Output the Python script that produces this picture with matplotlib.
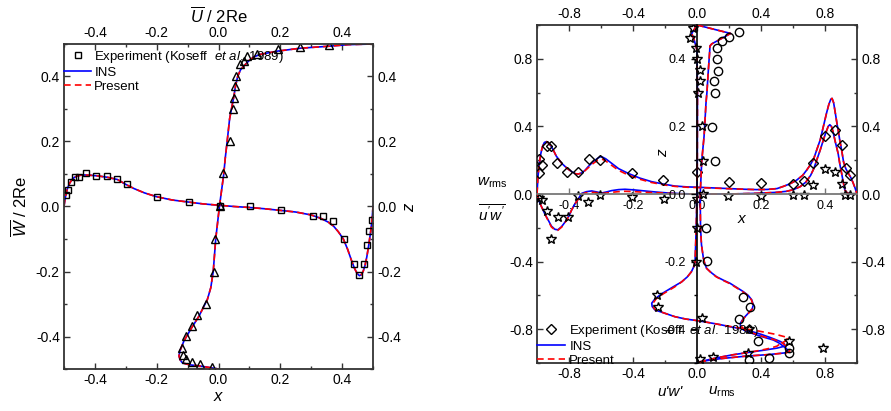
import numpy as np
import matplotlib.pyplot as plt
from matplotlib.ticker import MultipleLocator
from matplotlib.lines import Line2D

plt.rcParams['font.family'] = 'Liberation Sans'
plt.rcParams['mathtext.fontset'] = 'custom'
plt.rcParams['mathtext.rm'] = 'Liberation Sans'
plt.rcParams['mathtext.it'] = 'Liberation Sans:italic'
plt.rcParams['mathtext.bf'] = 'Liberation Sans:bold'

# ---------------- left panel data ----------------
# W/2Re along the horizontal centreline
w_x = [-0.5, -0.497, -0.493, -0.488, -0.482, -0.475, -0.466, -0.456, -0.443, -0.43, -0.413,
       -0.39, -0.36, -0.327, -0.3, -0.273, -0.24, -0.2, -0.15, -0.1, -0.05, 0.0, 0.05, 0.1,
       0.15, 0.2, 0.25, 0.3, 0.33, 0.355, 0.372, 0.388, 0.404, 0.418, 0.43, 0.44, 0.448,
       0.456, 0.462, 0.468, 0.474, 0.48, 0.486, 0.492, 0.497, 0.5]
w_ins = [0.0, 0.02, 0.04, 0.058, 0.071, 0.082, 0.09, 0.094, 0.097, 0.097, 0.096,
         0.094, 0.09, 0.083, 0.068, 0.055, 0.042, 0.03, 0.02, 0.014, 0.008, 0.004, 0.0, -0.003,
         -0.007, -0.012, -0.017, -0.026, -0.036, -0.048, -0.06, -0.078, -0.1, -0.132, -0.165, -0.19, -0.205,
         -0.213, -0.21, -0.2, -0.182, -0.155, -0.12, -0.08, -0.04, 0.0]
w_present = list(w_ins)   # lies on top of INS

# U/2Re along the vertical centreline
u_z = [0.5, 0.498, 0.493, 0.487, 0.478, 0.468, 0.46, 0.45, 0.442, 0.43, 0.42, 0.4, 0.37,
       0.34, 0.3, 0.27, 0.2, 0.15, 0.1, 0.05, 0.0, -0.05, -0.1, -0.15, -0.2, -0.25, -0.286,
       -0.337, -0.378, -0.414, -0.445, -0.46, -0.472, -0.481, -0.487, -0.491, -0.496, -0.5]
u_ins = [0.5, 0.42, 0.355, 0.265, 0.19, 0.135, 0.114, 0.1, 0.092, 0.08, 0.071, 0.062, 0.055,
         0.05, 0.042, 0.036, 0.028, 0.022, 0.017, 0.01, 0.003, -0.003, -0.009, -0.013, -0.017, -0.025, -0.036,
         -0.063, -0.09, -0.112, -0.125, -0.128, -0.124, -0.117, -0.095, -0.058, -0.025, 0.0]
u_present = list(u_ins)

exp_w_x = [-0.493, -0.488, -0.477, -0.465, -0.45, -0.429, -0.397, -0.362, -0.33, -0.297, -0.198,
           -0.096, 0.004, 0.103, 0.203, 0.305, 0.338, 0.372, 0.406, 0.439, 0.456, 0.471, 0.482,
           0.488, 0.497]
exp_w = [0.035, 0.05, 0.075, 0.09, 0.091, 0.104, 0.095, 0.093, 0.085, 0.07, 0.029,
         0.013, 0.001, 0.001, -0.012, -0.028, -0.03, -0.045, -0.1, -0.178, -0.21, -0.178, -0.117,
         -0.076, -0.043]
exp_u = [0.356, 0.265, 0.193, 0.123, 0.092, 0.082, 0.069, 0.058, 0.055, 0.049, 0.047, 0.036, 0.015,
         0.004, -0.01, -0.016, -0.042, -0.071, -0.087, -0.104, -0.117, -0.114, -0.106, -0.087, -0.06, -0.02]
exp_u_z = [0.496, 0.491, 0.485, 0.468, 0.462, 0.449, 0.439, 0.403, 0.37, 0.334, 0.3, 0.203, 0.104,
           0.0, -0.1, -0.2, -0.3, -0.334, -0.368, -0.399, -0.435, -0.458, -0.469, -0.479, -0.486, -0.493]

# ---------------- right panel data ----------------
# profiles along x (value on outer left axis)
wr_x = [-0.5, -0.497, -0.493, -0.488, -0.483, -0.477, -0.47, -0.463, -0.455, -0.449, -0.44, -0.423,
        -0.405, -0.392, -0.38, -0.371, -0.36, -0.35, -0.34, -0.325, -0.31, -0.303, -0.295, -0.285,
        -0.267, -0.245, -0.215, -0.18, -0.142, -0.1, -0.069, -0.03, 0.004, 0.05, 0.1, 0.15, 0.186,
        0.22, 0.25, 0.27, 0.29, 0.31, 0.33, 0.343, 0.355, 0.365, 0.374, 0.385, 0.395, 0.405, 0.412,
        0.418, 0.422, 0.427, 0.433, 0.438, 0.441, 0.446, 0.452, 0.458, 0.465, 0.473, 0.48, 0.487,
        0.494, 0.5]
wr_ins = [0.0, 0.1, 0.18, 0.24, 0.28, 0.305, 0.31, 0.3, 0.28, 0.26, 0.225, 0.182,
          0.15, 0.133, 0.12, 0.118, 0.125, 0.14, 0.162, 0.19, 0.212, 0.22, 0.218, 0.208,
          0.182, 0.15, 0.122, 0.095, 0.073, 0.057, 0.047, 0.042, 0.04, 0.036, 0.032, 0.028, 0.026,
          0.027, 0.032, 0.045, 0.06, 0.08, 0.11, 0.142, 0.175, 0.21, 0.26, 0.32, 0.4, 0.48, 0.53,
          0.56, 0.566, 0.54, 0.47, 0.41, 0.38, 0.32, 0.26, 0.19, 0.15, 0.122, 0.1, 0.07,
          0.035, 0.0]
wr_present = [0.0, 0.1, 0.18, 0.24, 0.28, 0.305, 0.31, 0.3, 0.28, 0.26, 0.225, 0.182,
              0.15, 0.133, 0.12, 0.118, 0.125, 0.138, 0.155, 0.18, 0.2, 0.205, 0.205, 0.195,
              0.17, 0.14, 0.112, 0.088, 0.068, 0.053, 0.045, 0.04, 0.038, 0.035, 0.031, 0.028, 0.026,
              0.027, 0.032, 0.045, 0.06, 0.08, 0.11, 0.142, 0.175, 0.21, 0.26, 0.32, 0.4, 0.48, 0.53,
              0.56, 0.566, 0.54, 0.47, 0.41, 0.38, 0.32, 0.26, 0.19, 0.15, 0.122, 0.1, 0.07,
              0.035, 0.0]

uw_x = [-0.5, -0.495, -0.486, -0.475, -0.465, -0.455, -0.444, -0.435, -0.423, -0.41, -0.4, -0.392,
        -0.38, -0.36, -0.345, -0.329, -0.313, -0.298, -0.283, -0.267, -0.245, -0.225, -0.195,
        -0.163, -0.13, -0.09, -0.05, 0.0, 0.1, 0.186, 0.25, 0.28, 0.3, 0.322, 0.34, 0.355, 0.365,
        0.374, 0.385, 0.395, 0.402, 0.41, 0.415, 0.42, 0.425, 0.432, 0.441, 0.447, 0.452, 0.457,
        0.462, 0.47, 0.48, 0.5]
uw_ins = [0.0, -0.035, -0.075, -0.12, -0.154, -0.19, -0.209, -0.212, -0.193, -0.16, -0.13, -0.095,
          -0.055, 0.004, 0.014, 0.018, 0.012, 0.006, 0.012, 0.02, 0.026, 0.028, 0.024,
          0.018, 0.012, 0.006, 0.002, 0.0, 0.0, 0.004, 0.01, 0.016, 0.025, 0.043, 0.07, 0.11, 0.15,
          0.2, 0.26, 0.32, 0.36, 0.4, 0.41, 0.4, 0.37, 0.31, 0.24, 0.17, 0.122, 0.07,
          0.024, 0.005, 0.0, 0.0]
uw_present = [0.0, -0.035, -0.075, -0.12, -0.158, -0.195, -0.213, -0.215, -0.196, -0.162, -0.13, -0.095,
              -0.055, 0.0, 0.008, 0.01, 0.008, 0.004, 0.006, 0.01, 0.014, 0.016, 0.014,
              0.01, 0.008, 0.004, 0.001, 0.0, 0.0, 0.004, 0.01, 0.016, 0.025, 0.043, 0.07, 0.11, 0.15,
              0.2, 0.26, 0.32, 0.36, 0.4, 0.41, 0.4, 0.37, 0.31, 0.24, 0.17, 0.122, 0.07,
              0.024, 0.005, 0.0, 0.0]

exp_wr_x = [-0.494, -0.494, -0.483, -0.468, -0.457, -0.437, -0.405, -0.373, -0.337, -0.303, -0.202,
            -0.105, 0.0, 0.1, 0.2, 0.3, 0.333, 0.364, 0.4, 0.432, 0.452, 0.465, 0.478]
exp_wr = [0.122, 0.207, 0.172, 0.284, 0.284, 0.185, 0.128, 0.132, 0.205, 0.201, 0.122,
          0.083, 0.13, 0.069, 0.063, 0.058, 0.075, 0.185, 0.343, 0.379, 0.29, 0.152, 0.112]
exp_uwx_x = [-0.494, -0.483, -0.47, -0.457, -0.434, -0.402, -0.373, -0.34, -0.303, -0.202, -0.102,
             0.0, 0.098, 0.2, 0.299, 0.333, 0.364, 0.4, 0.432, 0.452, 0.463, 0.477]
exp_uwx = [-0.022, -0.036, -0.099, -0.264, -0.138, -0.136, -0.01, -0.046, -0.006, -0.02, -0.031,
           -0.03, -0.012, -0.012, -0.006, -0.006, 0.055, 0.15, 0.132, 0.058, -0.006, -0.008]

# profiles along z (value on outer bottom axis)
ur_z = [0.5, 0.475, 0.444, 0.438, 0.42, 0.367, 0.3, 0.268, 0.2, 0.17, 0.1, 0.0, -0.1, -0.15, -0.19,
        -0.205, -0.22, -0.233, -0.245, -0.255, -0.264, -0.277, -0.289, -0.3, -0.313, -0.328, -0.34,
        -0.347, -0.358, -0.368, -0.383, -0.393, -0.402, -0.41, -0.417, -0.424, -0.432, -0.44, -0.447,
        -0.452, -0.458, -0.465, -0.47, -0.475, -0.48, -0.487, -0.493, -0.5]
ur_ins = [0.0, 0.21, 0.092, 0.081, 0.079, 0.071, 0.062, 0.056, 0.048, 0.044, 0.03, 0.02, 0.022, 0.028, 0.04,
          0.048, 0.06, 0.09, 0.123, 0.165, 0.206, 0.25, 0.29, 0.32, 0.342, 0.352, 0.345,
          0.331, 0.31, 0.29, 0.27, 0.272, 0.29, 0.33, 0.373, 0.42, 0.477, 0.51, 0.53,
          0.545, 0.56, 0.57, 0.55, 0.45, 0.3, 0.15, 0.06, 0.0]
ur_present = [0.0, 0.21, 0.092, 0.081, 0.079, 0.071, 0.062, 0.056, 0.048, 0.044, 0.03, 0.02, 0.022, 0.028, 0.04,
              0.048, 0.06, 0.088, 0.12, 0.16, 0.2, 0.245, 0.285, 0.318, 0.34, 0.35, 0.345,
              0.333, 0.312, 0.292, 0.275, 0.28, 0.3, 0.34, 0.38, 0.43, 0.49, 0.53, 0.55,
              0.56, 0.575, 0.58, 0.56, 0.45, 0.3, 0.15, 0.06, 0.0]

uwz_z = [0.5, 0.475, 0.455, 0.425, 0.3, 0.1, 0.0, -0.1, -0.2, -0.215, -0.23, -0.245, -0.26, -0.275,
         -0.295, -0.31, -0.323, -0.333, -0.343, -0.353, -0.363, -0.37, -0.375, -0.381, -0.387, -0.393,
         -0.398, -0.405, -0.415, -0.425, -0.436, -0.443, -0.45, -0.456, -0.462, -0.468, -0.476,
         -0.485, -0.495, -0.5]
uwz_ins = [0.0, -0.033, -0.017, 0.0, 0.003, 0.002, 0.0, -0.005, -0.012, -0.02, -0.035, -0.06, -0.096, -0.15,
           -0.22, -0.262, -0.283, -0.28, -0.263, -0.2, -0.138, -0.07, 0.008, 0.08, 0.15, 0.21,
           0.269, 0.33, 0.4, 0.46, 0.519, 0.545, 0.55, 0.5, 0.42, 0.331, 0.22,
           0.12, 0.03, 0.0]
uwz_present = [0.0, -0.033, -0.017, 0.0, 0.003, 0.002, 0.0, -0.005, -0.012, -0.02, -0.035, -0.06, -0.096, -0.14,
               -0.21, -0.255, -0.275, -0.275, -0.26, -0.2, -0.138, -0.07, 0.008, 0.08, 0.15, 0.22,
               0.29, 0.38, 0.49, 0.57, 0.55, 0.52, 0.5, 0.46, 0.4, 0.331, 0.22,
               0.12, 0.03, 0.0]

exp_ur = [0.264, 0.202, 0.158, 0.123, 0.127, 0.133, 0.106, 0.113, 0.092, 0.113, 0.056, 0.06, 0.29,
          0.331, 0.26, 0.384, 0.577, 0.577, 0.452, 0.327]
exp_ur_z = [0.478, 0.464, 0.454, 0.431, 0.399, 0.365, 0.333, 0.3, 0.199, 0.099, -0.1, -0.199, -0.304,
            -0.333, -0.369, -0.436, -0.456, -0.471, -0.484, -0.491]
exp_uwz = [-0.027, -0.044, -0.009, 0.0, 0.017, 0.019, 0.007, 0.029, 0.04, 0.04, 0.0, -0.009, -0.252,
           -0.242, 0.029, 0.324, 0.577, 0.785, 0.317, 0.102, 0.019]
exp_uwz_z = [0.49, 0.463, 0.432, 0.398, 0.367, 0.334, 0.3, 0.2, 0.099, 0.0, -0.1, -0.2, -0.299,
             -0.333, -0.368, -0.4, -0.435, -0.457, -0.469, -0.483, -0.489]

# ---------------- styles ----------------
FRAME = '#333333'
TICK = dict(direction='in', length=4, width=1, colors=FRAME, labelcolor='black', labelsize=10)
MTICK = dict(direction='in', length=2.5, width=1, colors=FRAME)
ins_kw = dict(color='#0000ff', lw=1.2)
pre_kw = dict(color='#ff0000', lw=1.2, ls='--', dashes=(4, 2.5))
mk_kw = dict(ls='none', mfc='none', mec='black', mew=1.0)
exp_label = r'Experiment (Koseff  $\it{et\ al.}$ 1989)'

fig = plt.figure(figsize=(8.91, 4.11), dpi=100)

# ================= left panel =================
axL = fig.add_axes([64/891, 1 - 369/411, 309/891, 325/411])
l_ins, = axL.plot(w_x, w_ins, label='INS', **ins_kw)
axL.plot(u_ins, u_z, **ins_kw)
l_pre, = axL.plot(w_x, w_present, label='Present', **pre_kw)
axL.plot(u_present, u_z, **pre_kw)
m_sq, = axL.plot(exp_w_x, exp_w, marker='s', ms=5, label=exp_label, **mk_kw)
axL.plot(exp_u, exp_u_z, marker='^', ms=6, **mk_kw)

axL.set_xlim(-0.5, 0.5)
axL.set_ylim(-0.5, 0.5)
for a in (axL.xaxis, axL.yaxis):
    a.set_major_locator(MultipleLocator(0.2))
    a.set_minor_locator(MultipleLocator(0.1))
axL.tick_params(which='major', top=True, right=True, labeltop=True, labelright=True, pad=3, **TICK)
axL.tick_params(which='minor', top=True, right=True, **MTICK)
axL.xaxis.set_major_formatter(plt.FormatStrFormatter('%.1f'))
axL.yaxis.set_major_formatter(plt.FormatStrFormatter('%.1f'))
for s in axL.spines.values():
    s.set_color(FRAME)
    s.set_linewidth(1.3)

axL.set_xlabel(r'$x$', fontsize=12, labelpad=1)
axL.set_ylabel(r'$\overline{W}$ / 2Re', fontsize=12, labelpad=4)
axL.text(0.5, 1 + 28/325, r'$\overline{U}$ / 2Re', transform=axL.transAxes, ha='center', va='center', fontsize=12)
axL.text(1 + 36/309, 0.5, r'$z$', transform=axL.transAxes, ha='center', va='center', fontsize=12, rotation=90)

axL.legend([m_sq, l_ins, l_pre], [exp_label, 'INS', 'Present'], loc='upper left',
           bbox_to_anchor=(0.0, 0.985), frameon=False, fontsize=9.5, handlelength=2.05,
           handletextpad=0.25, labelspacing=0.12, borderaxespad=0, borderpad=0)

# ================= right panel =================
rectR = [537/891, 1 - 363/411, 320/891, 338/411]
axR = fig.add_axes(rectR)
axR.set_xlim(-1, 1)
axR.set_ylim(-1, 1)
for a in (axR.xaxis, axR.yaxis):
    a.set_major_locator(MultipleLocator(0.4))
    a.set_minor_locator(MultipleLocator(0.2))
    a.set_major_formatter(plt.FormatStrFormatter('%.1f'))
axR.tick_params(which='major', top=True, right=True, labeltop=True, labelright=True, pad=3, **TICK)
axR.tick_params(which='minor', top=True, right=True, **MTICK)
for s in axR.spines.values():
    s.set_color(FRAME)
    s.set_linewidth(1.3)
axR.text(-0.14, 0.5 + 11/338, r'$w_{\rm rms}$', transform=axR.transAxes, ha='center', va='center', fontsize=11)
axR.text(-0.14, 0.5 - 19/338, r"$\overline{u'w'}$", transform=axR.transAxes, ha='center', va='center', fontsize=11)
axR.text((670 - 537)/320, -0.085, "u'w'", style='italic', transform=axR.transAxes, ha='center', va='center',
         fontsize=11)
axR.text((722 - 537)/320, -0.085, r'$u_{\rm rms}$', transform=axR.transAxes, ha='center', va='center', fontsize=11)

# profiles along x, inner x axis drawn at w = 0
axH = fig.add_axes(rectR, label='along_x')
axH.patch.set_visible(False)
for s in ('top', 'left', 'right'):
    axH.spines[s].set_visible(False)
axH.spines['bottom'].set_position(('data', 0))
axH.spines['bottom'].set_color('#777777')
axH.spines['bottom'].set_linewidth(1.3)
axH.set_xlim(-0.5, 0.5)
axH.set_ylim(-1, 1)
axH.set_yticks([])
axH.set_xticks([-0.4, -0.2, 0.0, 0.2, 0.4])
axH.xaxis.set_major_formatter(plt.FormatStrFormatter('%.1f'))
axH.tick_params(axis='x', direction='in', length=4, width=1, colors='#777777', labelcolor='black',
                labelsize=9, pad=4)
axH.plot(wr_x, wr_ins, **ins_kw)
axH.plot(uw_x, uw_ins, **ins_kw)
axH.plot(wr_x, wr_present, **pre_kw)
axH.plot(uw_x, uw_present, **pre_kw)
m_dia, = axH.plot(exp_wr_x, exp_wr, marker='D', ms=5, **mk_kw)
axH.plot(exp_uwx_x, exp_uwx, marker='*', ms=7, **mk_kw)
axH.text((742 - 537)/320, (363 - 219)/338, r'$x$', transform=axH.transAxes, ha='center', va='center', fontsize=11)

# profiles along z, inner z axis drawn at u = 0
axV = fig.add_axes(rectR, label='along_z')
axV.patch.set_visible(False)
for s in ('top', 'bottom', 'right'):
    axV.spines[s].set_visible(False)
axV.spines['left'].set_position(('data', 0))
axV.spines['left'].set_color('black')
axV.spines['left'].set_linewidth(1.2)
axV.set_xlim(-1, 1)
axV.set_ylim(-0.5, 0.5)
axV.set_xticks([])
axV.set_yticks([-0.4, -0.2, 0.0, 0.2, 0.4])
axV.yaxis.set_minor_locator(MultipleLocator(0.1))
axV.yaxis.set_major_formatter(plt.FormatStrFormatter('%.1f'))
axV.tick_params(axis='y', which='major', direction='out', length=4, width=1, labelsize=9, pad=4)
axV.tick_params(axis='y', which='minor', direction='out', length=2.5, width=1)
axV.plot(ur_ins, ur_z, **ins_kw)
axV.plot(uwz_ins, uwz_z, **ins_kw)
axV.plot(ur_present, ur_z, **pre_kw)
axV.plot(uwz_present, uwz_z, **pre_kw)
axV.plot(exp_ur, exp_ur_z, marker='o', ms=6, **mk_kw)
axV.plot(exp_uwz, exp_uwz_z, marker='*', ms=7, **mk_kw)
axV.text((663 - 537)/320, (363 - 152)/338, r'$z$', transform=axV.transAxes, ha='center', va='center',
         fontsize=11, rotation=90)

axV.legend([m_dia, Line2D([], [], **ins_kw), Line2D([], [], **pre_kw)], [exp_label, 'INS', 'Present'],
           loc='lower left', bbox_to_anchor=(0.0, -0.012), frameon=False, fontsize=9.5,
           handlelength=2.1, handletextpad=0.35, labelspacing=0.15, borderaxespad=0, borderpad=0)

fig.savefig('out.png', dpi=100)
